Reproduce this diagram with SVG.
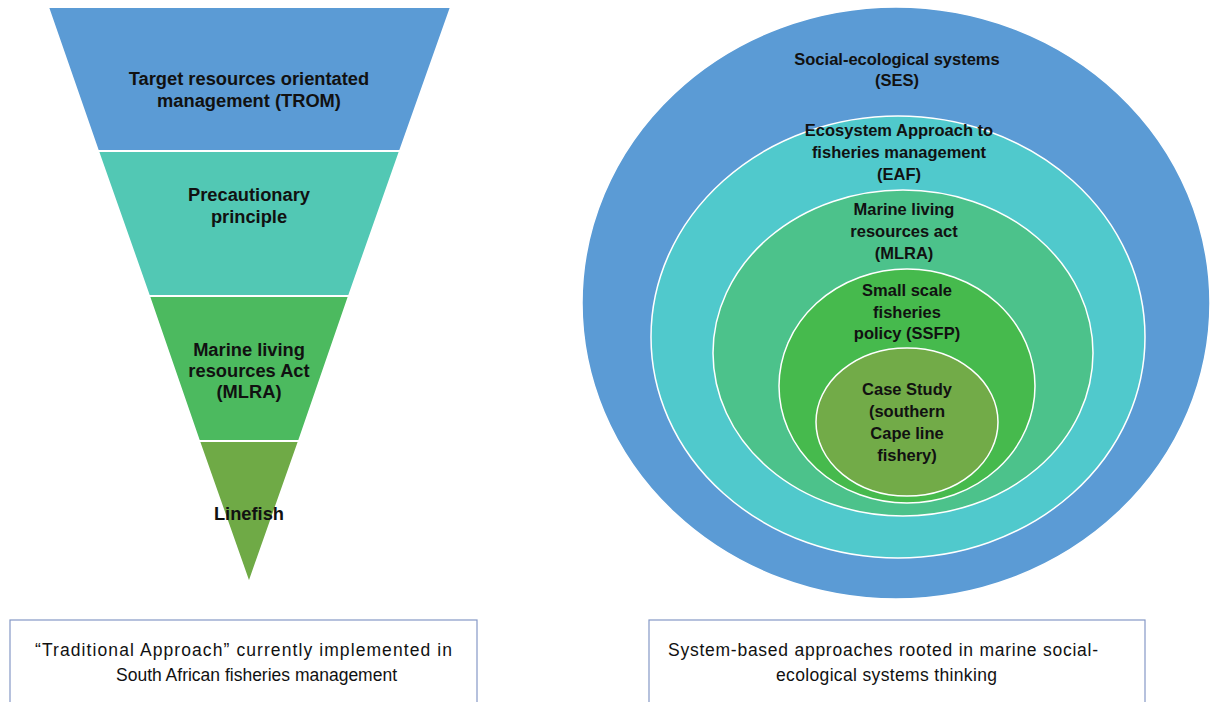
<svg xmlns="http://www.w3.org/2000/svg" width="1211" height="702" viewBox="0 0 1211 702">
<style>
.b{font-family:"Liberation Sans",Arial,sans-serif;font-weight:bold;font-size:16.5px;fill:#111;text-anchor:middle}
.f{font-size:18.3px}
.r{font-family:"Liberation Sans",Arial,sans-serif;font-size:17.5px;fill:#111;text-anchor:middle}
.band{stroke:#fff;stroke-width:2}
.ring{stroke:#fff;stroke-width:1.5}
.box{fill:#fff;stroke:#8598c6;stroke-width:1.2}
</style>
<rect width="1211" height="702" fill="#fff"/>
<g id="funnel">
<g id="trom">
<polygon class="band" points="48,7 451,7 400,151 98,151" fill="#5b9bd5"/>
<text class="b f" x="249" y="85">Target resources orientated</text>
<text class="b f" x="249" y="107">management (TROM)</text>
</g>
<g id="precautionary">
<polygon class="band" points="98,151 400,151 349,296 149,296" fill="#52c8b4"/>
<text class="b f" x="249" y="201">Precautionary</text>
<text class="b f" x="249" y="223">principle</text>
</g>
<g id="mlra-left">
<polygon class="band" points="149,296 349,296 299,441 199,441" fill="#4cba5f"/>
<text class="b f" x="249" y="356">Marine living</text>
<text class="b f" x="249" y="377">resources Act</text>
<text class="b f" x="249" y="398">(MLRA)</text>
</g>
<g id="linefish">
<polygon class="band" points="199,441 299,441 249,583" fill="#6faa46"/>
<text class="b f" x="249" y="520">Linefish</text>
</g>
</g>
<g id="left-caption">
<rect class="box" x="10" y="620" width="467" height="90"/>
<text class="r" x="243.5" y="656" textLength="417">“Traditional Approach” currently implemented in</text>
<text class="r" x="256.5" y="681" textLength="281">South African fisheries management</text>
</g>
<g id="circles">
<g id="ses">
<ellipse class="ring" cx="896" cy="303" rx="314" ry="296" fill="#5b9bd5"/>
<text class="b" x="897" y="65">Social-ecological systems</text>
<text class="b" x="897" y="86">(SES)</text>
</g>
<g id="eaf">
<ellipse class="ring" cx="898" cy="337" rx="247" ry="221" fill="#50c9cc"/>
<text class="b" x="899" y="136">Ecosystem Approach to</text>
<text class="b" x="899" y="158">fisheries management</text>
<text class="b" x="899" y="180">(EAF)</text>
</g>
<g id="mlra">
<ellipse class="ring" cx="903" cy="353" rx="190" ry="163" fill="#4cc28b"/>
<text class="b" x="904" y="215">Marine living</text>
<text class="b" x="904" y="237">resources act</text>
<text class="b" x="904" y="259">(MLRA)</text>
</g>
<g id="ssfp">
<ellipse class="ring" cx="907" cy="386" rx="128" ry="117" fill="#46ba4d"/>
<text class="b" x="907" y="296">Small scale</text>
<text class="b" x="907" y="318">fisheries</text>
<text class="b" x="907" y="339">policy (SSFP)</text>
</g>
<g id="case-study">
<ellipse class="ring" cx="907" cy="422" rx="91" ry="74" fill="#72ab48"/>
<text class="b" x="907" y="395">Case Study</text>
<text class="b" x="907" y="417">(southern</text>
<text class="b" x="907" y="439">Cape line</text>
<text class="b" x="907" y="461">fishery)</text>
</g>
</g>
<g id="right-caption">
<rect class="box" x="649" y="620" width="496" height="90"/>
<text class="r" x="883" y="656" textLength="430">System-based approaches rooted in marine social-</text>
<text class="r" x="886.5" y="681" textLength="221">ecological systems thinking</text>
</g>
<g id="connectors"></g>
</svg>
